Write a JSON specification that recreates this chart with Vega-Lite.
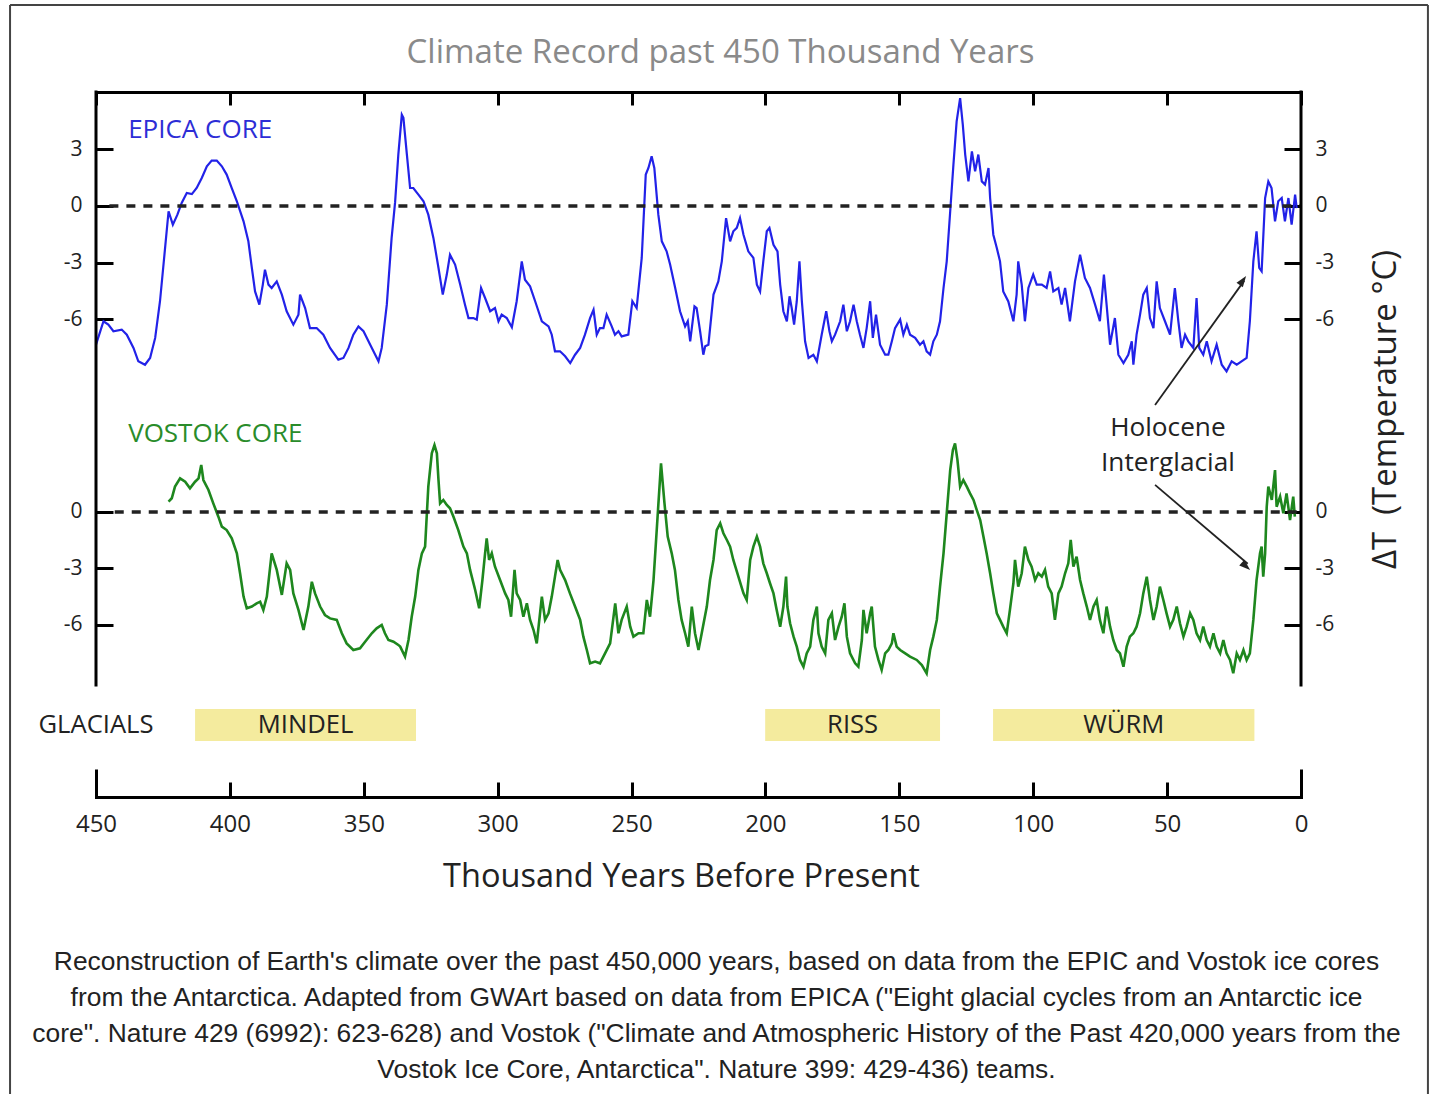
{
"$schema": "https://vega.github.io/schema/vega-lite/v6.json",
"background": "white",
"autosize": {"type": "none"},
"padding": {"left": 96, "top": 92, "right": 130, "bottom": 297},
"width": 1205,
"height": 705,
"title": {
  "text": [
    "Reconstruction of Earth's climate over the past 450,000 years, based on data from the EPIC and Vostok ice cores",
    "from the Antarctica. Adapted from GWArt based on data from EPICA (\"Eight glacial cycles from an Antarctic ice",
    "core\". Nature 429 (6992): 623-628) and Vostok (\"Climate and Atmospheric History of the Past 420,000 years from the",
    "Vostok Ice Core, Antarctica\". Nature 399: 429-436) teams."
  ],
  "orient": "bottom", "anchor": "middle", "frame": "group", "font": "Liberation Sans", "fontSize": 26.4, "fontWeight": "normal", "color": "#222", "lineHeight": 36, "offset": -146, "dx": 18
},
"config": {
  "view": {"stroke": null},
  "font": "Open Sans",
  "axis": {"domainColor": "#000", "domainWidth": 3, "domainCap": "square", "tickColor": "#000", "tickWidth": 3, "grid": false, "labelFont": "Open Sans", "labelColor": "#222", "titleFont": "Open Sans", "titleColor": "#222", "titleFontWeight": "normal"}
},
"datasets": {
  "epica": [
{"kyr":450,"dT":-7.34},{"kyr":447.2,"dT":-6.1},{"kyr":445.4,"dT":-6.28},{"kyr":443.5,"dT":-6.63},{"kyr":440.4,"dT":-6.54},{"kyr":438.5,"dT":-6.81},{"kyr":436.0,"dT":-7.51},{"kyr":434.2,"dT":-8.22},{"kyr":431.7,"dT":-8.4},{"kyr":429.8,"dT":-8.04},{"kyr":427.9,"dT":-6.98},{"kyr":426.1,"dT":-5.04},{"kyr":424.2,"dT":-2.22},{"kyr":422.9,"dT":-0.28},{"kyr":421.3,"dT":-0.99},{"kyr":419.6,"dT":-0.46},{"kyr":418.0,"dT":0.16},{"kyr":416.1,"dT":0.69},{"kyr":414.2,"dT":0.63},{"kyr":412.4,"dT":0.95},{"kyr":410.5,"dT":1.48},{"kyr":408.6,"dT":2.1},{"kyr":406.8,"dT":2.4},{"kyr":404.9,"dT":2.4},{"kyr":403.0,"dT":2.1},{"kyr":401.2,"dT":1.66},{"kyr":399.3,"dT":0.95},{"kyr":397.4,"dT":0.25},{"kyr":394.9,"dT":-0.81},{"kyr":393.1,"dT":-1.87},{"kyr":391.8,"dT":-3.28},{"kyr":390.6,"dT":-4.52},{"kyr":389.0,"dT":-5.22},{"kyr":387.7,"dT":-4.16},{"kyr":386.9,"dT":-3.37},{"kyr":385.6,"dT":-4.16},{"kyr":384.4,"dT":-4.34},{"kyr":382.5,"dT":-3.99},{"kyr":380.6,"dT":-4.69},{"kyr":378.8,"dT":-5.57},{"kyr":376.3,"dT":-6.28},{"kyr":374.4,"dT":-5.75},{"kyr":373.8,"dT":-4.69},{"kyr":371.9,"dT":-5.4},{"kyr":370.1,"dT":-6.46},{"kyr":367.6,"dT":-6.46},{"kyr":365.1,"dT":-6.81},{"kyr":362.6,"dT":-7.51},{"kyr":359.5,"dT":-8.13},{"kyr":357.6,"dT":-8.04},{"kyr":355.7,"dT":-7.51},{"kyr":353.9,"dT":-6.81},{"kyr":352.0,"dT":-6.37},{"kyr":350.1,"dT":-6.63},{"kyr":347.6,"dT":-7.34},{"kyr":344.5,"dT":-8.22},{"kyr":343.3,"dT":-7.51},{"kyr":341.4,"dT":-5.22},{"kyr":339.6,"dT":-1.69},{"kyr":338.3,"dT":0.2},{"kyr":337.1,"dT":2.72},{"kyr":335.8,"dT":4.83},{"kyr":335.2,"dT":4.66},{"kyr":333.9,"dT":2.72},{"kyr":332.7,"dT":0.95},{"kyr":331.5,"dT":0.95},{"kyr":329.6,"dT":0.6},{"kyr":327.7,"dT":0.25},{"kyr":325.9,"dT":-0.46},{"kyr":324.0,"dT":-1.69},{"kyr":322.1,"dT":-3.28},{"kyr":320.5,"dT":-4.69},{"kyr":319.0,"dT":-3.63},{"kyr":317.8,"dT":-2.58},{"kyr":315.9,"dT":-3.1},{"kyr":314.0,"dT":-4.16},{"kyr":312.2,"dT":-5.22},{"kyr":310.9,"dT":-5.93},{"kyr":309.1,"dT":-5.93},{"kyr":307.8,"dT":-6.01},{"kyr":306.2,"dT":-4.34},{"kyr":304.7,"dT":-4.87},{"kyr":302.8,"dT":-5.57},{"kyr":301.0,"dT":-5.4},{"kyr":299.7,"dT":-6.1},{"kyr":298.5,"dT":-5.75},{"kyr":296.6,"dT":-5.93},{"kyr":294.7,"dT":-6.42},{"kyr":292.9,"dT":-5.04},{"kyr":291.0,"dT":-2.93},{"kyr":289.8,"dT":-3.9},{"kyr":287.9,"dT":-4.25},{"kyr":286.0,"dT":-5.04},{"kyr":283.5,"dT":-6.1},{"kyr":281.0,"dT":-6.37},{"kyr":279.8,"dT":-6.81},{"kyr":278.6,"dT":-7.69},{"kyr":276.7,"dT":-7.69},{"kyr":274.8,"dT":-7.95},{"kyr":272.9,"dT":-8.31},{"kyr":271.1,"dT":-7.87},{"kyr":269.2,"dT":-7.51},{"kyr":267.4,"dT":-6.81},{"kyr":265.5,"dT":-5.93},{"kyr":264.2,"dT":-5.49},{"kyr":263.0,"dT":-6.81},{"kyr":261.8,"dT":-6.46},{"kyr":260.5,"dT":-6.46},{"kyr":259.3,"dT":-5.75},{"kyr":257.4,"dT":-6.37},{"kyr":256.2,"dT":-6.81},{"kyr":254.9,"dT":-6.63},{"kyr":253.7,"dT":-6.9},{"kyr":251.2,"dT":-6.81},{"kyr":249.7,"dT":-5.04},{"kyr":248.1,"dT":-5.4},{"kyr":246.2,"dT":-2.75},{"kyr":244.7,"dT":1.66},{"kyr":243.7,"dT":2.01},{"kyr":242.5,"dT":2.63},{"kyr":241.5,"dT":2.01},{"kyr":240.0,"dT":-0.46},{"kyr":238.7,"dT":-1.87},{"kyr":236.9,"dT":-2.4},{"kyr":235.6,"dT":-3.1},{"kyr":233.7,"dT":-4.34},{"kyr":231.9,"dT":-5.57},{"kyr":230.0,"dT":-6.37},{"kyr":229.0,"dT":-6.1},{"kyr":228.1,"dT":-7.16},{"kyr":226.5,"dT":-5.31},{"kyr":225.7,"dT":-5.4},{"kyr":224.4,"dT":-6.63},{"kyr":223.2,"dT":-7.87},{"kyr":222.5,"dT":-7.42},{"kyr":221.3,"dT":-7.34},{"kyr":219.4,"dT":-4.69},{"kyr":217.6,"dT":-3.99},{"kyr":216.3,"dT":-2.93},{"kyr":214.7,"dT":-0.64},{"kyr":213.2,"dT":-1.87},{"kyr":212.0,"dT":-1.34},{"kyr":210.7,"dT":-1.16},{"kyr":209.5,"dT":-0.64},{"kyr":208.2,"dT":-1.52},{"kyr":206.4,"dT":-2.4},{"kyr":204.5,"dT":-2.75},{"kyr":203.2,"dT":-4.16},{"kyr":202.0,"dT":-4.52},{"kyr":200.8,"dT":-2.93},{"kyr":199.5,"dT":-1.34},{"kyr":198.5,"dT":-1.16},{"kyr":197.0,"dT":-2.05},{"kyr":195.5,"dT":-2.4},{"kyr":194.5,"dT":-4.16},{"kyr":193.3,"dT":-5.57},{"kyr":192.0,"dT":-6.1},{"kyr":191.0,"dT":-4.78},{"kyr":190.2,"dT":-5.4},{"kyr":189.3,"dT":-6.28},{"kyr":188.3,"dT":-5.04},{"kyr":187.3,"dT":-2.93},{"kyr":186.4,"dT":-5.04},{"kyr":185.2,"dT":-7.16},{"kyr":183.9,"dT":-8.04},{"kyr":182.1,"dT":-7.87},{"kyr":180.8,"dT":-8.22},{"kyr":179.0,"dT":-6.81},{"kyr":177.3,"dT":-5.57},{"kyr":176.1,"dT":-6.63},{"kyr":175.2,"dT":-7.16},{"kyr":174.0,"dT":-6.81},{"kyr":172.1,"dT":-6.1},{"kyr":170.9,"dT":-5.22},{"kyr":169.6,"dT":-6.63},{"kyr":168.4,"dT":-6.1},{"kyr":167.1,"dT":-5.22},{"kyr":165.9,"dT":-6.1},{"kyr":164.7,"dT":-6.81},{"kyr":163.4,"dT":-7.51},{"kyr":162.2,"dT":-6.46},{"kyr":160.9,"dT":-5.04},{"kyr":159.9,"dT":-6.98},{"kyr":158.7,"dT":-5.75},{"kyr":157.2,"dT":-7.34},{"kyr":155.3,"dT":-7.87},{"kyr":154.1,"dT":-7.87},{"kyr":152.8,"dT":-7.16},{"kyr":151.6,"dT":-6.46},{"kyr":149.7,"dT":-6.01},{"kyr":148.5,"dT":-6.81},{"kyr":147.2,"dT":-6.28},{"kyr":146.0,"dT":-6.81},{"kyr":144.1,"dT":-6.98},{"kyr":142.3,"dT":-7.34},{"kyr":141.0,"dT":-7.16},{"kyr":139.8,"dT":-7.69},{"kyr":138.5,"dT":-7.87},{"kyr":137.3,"dT":-7.16},{"kyr":136.0,"dT":-6.81},{"kyr":134.8,"dT":-6.1},{"kyr":133.5,"dT":-4.34},{"kyr":132.3,"dT":-2.93},{"kyr":131.0,"dT":-0.28},{"kyr":129.8,"dT":2.19},{"kyr":128.6,"dT":4.48},{"kyr":127.3,"dT":5.71},{"kyr":126.3,"dT":4.3},{"kyr":125.4,"dT":2.72},{"kyr":124.2,"dT":1.3},{"kyr":122.9,"dT":2.89},{"kyr":121.7,"dT":1.83},{"kyr":120.5,"dT":2.72},{"kyr":119.2,"dT":1.3},{"kyr":118.0,"dT":1.13},{"kyr":116.7,"dT":2.01},{"kyr":116.1,"dT":0.42},{"kyr":114.9,"dT":-1.52},{"kyr":113.6,"dT":-2.22},{"kyr":112.4,"dT":-2.93},{"kyr":111.2,"dT":-4.52},{"kyr":109.3,"dT":-5.05},{"kyr":107.4,"dT":-6.1},{"kyr":106.2,"dT":-4.69},{"kyr":105.6,"dT":-2.93},{"kyr":104.3,"dT":-4.16},{"kyr":103.1,"dT":-6.1},{"kyr":101.8,"dT":-4.34},{"kyr":100.0,"dT":-3.63},{"kyr":98.7,"dT":-4.16},{"kyr":96.8,"dT":-4.16},{"kyr":95.0,"dT":-4.34},{"kyr":93.7,"dT":-3.46},{"kyr":92.5,"dT":-4.52},{"kyr":90.6,"dT":-4.34},{"kyr":89.4,"dT":-5.22},{"kyr":88.1,"dT":-4.34},{"kyr":86.3,"dT":-6.1},{"kyr":84.4,"dT":-3.99},{"kyr":82.5,"dT":-2.58},{"kyr":80.7,"dT":-3.81},{"kyr":78.8,"dT":-4.34},{"kyr":76.9,"dT":-5.22},{"kyr":75.1,"dT":-6.1},{"kyr":73.6,"dT":-3.63},{"kyr":72.6,"dT":-5.22},{"kyr":71.3,"dT":-7.34},{"kyr":69.5,"dT":-5.93},{"kyr":68.2,"dT":-7.87},{"kyr":66.3,"dT":-8.31},{"kyr":64.5,"dT":-7.87},{"kyr":63.2,"dT":-7.16},{"kyr":62.6,"dT":-8.4},{"kyr":61.4,"dT":-6.81},{"kyr":60.1,"dT":-5.75},{"kyr":58.9,"dT":-4.69},{"kyr":57.6,"dT":-4.34},{"kyr":56.4,"dT":-5.93},{"kyr":55.1,"dT":-6.46},{"kyr":53.9,"dT":-3.99},{"kyr":52.7,"dT":-5.4},{"kyr":50.8,"dT":-6.1},{"kyr":48.9,"dT":-6.81},{"kyr":47.1,"dT":-4.34},{"kyr":45.8,"dT":-6.1},{"kyr":44.6,"dT":-7.51},{"kyr":43.3,"dT":-6.81},{"kyr":42.1,"dT":-7.16},{"kyr":40.2,"dT":-7.51},{"kyr":39.0,"dT":-4.87},{"kyr":38.0,"dT":-7.51},{"kyr":36.5,"dT":-7.87},{"kyr":35.2,"dT":-7.16},{"kyr":33.4,"dT":-8.22},{"kyr":31.5,"dT":-7.34},{"kyr":29.6,"dT":-8.4},{"kyr":27.8,"dT":-8.75},{"kyr":25.9,"dT":-8.22},{"kyr":24.0,"dT":-8.4},{"kyr":22.2,"dT":-8.22},{"kyr":20.3,"dT":-8.04},{"kyr":19.1,"dT":-6.1},{"kyr":17.8,"dT":-2.93},{"kyr":16.6,"dT":-1.34},{"kyr":15.6,"dT":-3.28},{"kyr":14.7,"dT":-3.46},{"kyr":13.4,"dT":0.42},{"kyr":12.2,"dT":1.3},{"kyr":11.0,"dT":0.95},{"kyr":9.7,"dT":-0.81},{"kyr":8.5,"dT":0.25},{"kyr":7.2,"dT":0.42},{"kyr":6.0,"dT":-0.81},{"kyr":4.7,"dT":0.42},{"kyr":3.5,"dT":-0.99},{"kyr":2.2,"dT":0.6},{"kyr":1.6,"dT":-0.11}
  ],
  "vostok": [
{"kyr":422.9,"dT":0.55},{"kyr":421.7,"dT":0.73},{"kyr":420.5,"dT":1.35},{"kyr":418.6,"dT":1.79},{"kyr":416.7,"dT":1.61},{"kyr":414.9,"dT":1.26},{"kyr":413.0,"dT":1.61},{"kyr":411.7,"dT":1.79},{"kyr":410.7,"dT":2.5},{"kyr":409.9,"dT":1.7},{"kyr":408.0,"dT":1.17},{"kyr":406.2,"dT":0.46},{"kyr":404.3,"dT":-0.25},{"kyr":403.0,"dT":-0.78},{"kyr":401.2,"dT":-0.96},{"kyr":399.3,"dT":-1.4},{"kyr":397.4,"dT":-2.2},{"kyr":396.2,"dT":-3.26},{"kyr":394.9,"dT":-4.5},{"kyr":393.7,"dT":-5.12},{"kyr":391.8,"dT":-5.03},{"kyr":390.0,"dT":-4.86},{"kyr":388.7,"dT":-4.77},{"kyr":387.5,"dT":-5.21},{"kyr":386.2,"dT":-4.5},{"kyr":384.4,"dT":-2.2},{"kyr":382.5,"dT":-3.08},{"kyr":380.6,"dT":-4.41},{"kyr":378.8,"dT":-2.73},{"kyr":377.5,"dT":-3.08},{"kyr":376.3,"dT":-4.33},{"kyr":374.4,"dT":-5.21},{"kyr":372.5,"dT":-6.28},{"kyr":370.7,"dT":-5.03},{"kyr":369.4,"dT":-3.71},{"kyr":368.2,"dT":-4.33},{"kyr":366.3,"dT":-5.03},{"kyr":364.5,"dT":-5.48},{"kyr":362.6,"dT":-5.66},{"kyr":360.1,"dT":-5.74},{"kyr":358.2,"dT":-6.45},{"kyr":356.4,"dT":-6.99},{"kyr":353.9,"dT":-7.34},{"kyr":351.4,"dT":-7.25},{"kyr":349.5,"dT":-6.9},{"kyr":347.0,"dT":-6.45},{"kyr":345.2,"dT":-6.19},{"kyr":343.3,"dT":-6.01},{"kyr":342.1,"dT":-6.45},{"kyr":340.8,"dT":-6.81},{"kyr":338.9,"dT":-6.9},{"kyr":337.1,"dT":-7.07},{"kyr":336.4,"dT":-7.16},{"kyr":334.6,"dT":-7.69},{"kyr":333.3,"dT":-6.81},{"kyr":332.1,"dT":-5.57},{"kyr":330.8,"dT":-4.5},{"kyr":329.6,"dT":-3.08},{"kyr":328.3,"dT":-2.2},{"kyr":327.1,"dT":-1.84},{"kyr":325.9,"dT":1.35},{"kyr":324.6,"dT":3.12},{"kyr":323.6,"dT":3.56},{"kyr":322.7,"dT":3.12},{"kyr":322.1,"dT":1.7},{"kyr":321.5,"dT":0.46},{"kyr":320.3,"dT":0.64},{"kyr":319.0,"dT":0.37},{"kyr":317.8,"dT":0.2},{"kyr":316.5,"dT":-0.25},{"kyr":314.7,"dT":-0.96},{"kyr":312.8,"dT":-1.84},{"kyr":311.5,"dT":-2.2},{"kyr":310.3,"dT":-3.08},{"kyr":308.4,"dT":-4.15},{"kyr":306.9,"dT":-5.12},{"kyr":305.7,"dT":-3.62},{"kyr":304.7,"dT":-2.2},{"kyr":304.1,"dT":-1.4},{"kyr":303.2,"dT":-2.55},{"kyr":302.2,"dT":-2.2},{"kyr":301.0,"dT":-2.91},{"kyr":299.1,"dT":-3.62},{"kyr":297.2,"dT":-4.33},{"kyr":296.0,"dT":-4.68},{"kyr":295.0,"dT":-5.57},{"kyr":293.7,"dT":-3.08},{"kyr":292.9,"dT":-4.33},{"kyr":291.6,"dT":-4.68},{"kyr":290.4,"dT":-5.57},{"kyr":289.1,"dT":-4.86},{"kyr":287.9,"dT":-5.74},{"kyr":286.6,"dT":-6.28},{"kyr":285.4,"dT":-6.99},{"kyr":283.5,"dT":-4.5},{"kyr":282.3,"dT":-5.74},{"kyr":281.0,"dT":-5.39},{"kyr":279.8,"dT":-4.5},{"kyr":278.6,"dT":-3.44},{"kyr":277.6,"dT":-2.55},{"kyr":276.7,"dT":-3.08},{"kyr":274.8,"dT":-3.62},{"kyr":273.0,"dT":-4.33},{"kyr":271.1,"dT":-5.03},{"kyr":269.2,"dT":-5.74},{"kyr":268.0,"dT":-6.63},{"kyr":266.7,"dT":-7.34},{"kyr":265.5,"dT":-8.05},{"kyr":263.6,"dT":-7.96},{"kyr":261.8,"dT":-8.05},{"kyr":259.9,"dT":-7.52},{"kyr":258.0,"dT":-6.99},{"kyr":256.1,"dT":-4.86},{"kyr":254.9,"dT":-6.45},{"kyr":253.7,"dT":-5.74},{"kyr":251.8,"dT":-5.03},{"kyr":250.5,"dT":-6.1},{"kyr":249.3,"dT":-6.63},{"kyr":247.4,"dT":-6.45},{"kyr":245.6,"dT":-6.45},{"kyr":244.3,"dT":-4.68},{"kyr":243.1,"dT":-5.57},{"kyr":241.8,"dT":-3.62},{"kyr":240.6,"dT":-0.96},{"kyr":239.0,"dT":2.59},{"kyr":237.7,"dT":0.46},{"kyr":236.5,"dT":-1.31},{"kyr":235.0,"dT":-2.2},{"kyr":233.8,"dT":-3.08},{"kyr":232.5,"dT":-4.68},{"kyr":231.3,"dT":-5.74},{"kyr":230.0,"dT":-6.45},{"kyr":228.8,"dT":-7.16},{"kyr":227.5,"dT":-5.03},{"kyr":226.3,"dT":-6.45},{"kyr":225.0,"dT":-7.34},{"kyr":223.8,"dT":-6.45},{"kyr":221.9,"dT":-5.03},{"kyr":220.7,"dT":-3.62},{"kyr":219.4,"dT":-2.55},{"kyr":218.2,"dT":-0.96},{"kyr":216.9,"dT":-0.6},{"kyr":215.7,"dT":-1.13},{"kyr":214.4,"dT":-1.49},{"kyr":213.2,"dT":-1.84},{"kyr":212.0,"dT":-2.55},{"kyr":210.1,"dT":-3.44},{"kyr":208.2,"dT":-4.33},{"kyr":207.0,"dT":-4.68},{"kyr":205.7,"dT":-2.55},{"kyr":204.5,"dT":-1.84},{"kyr":203.2,"dT":-1.31},{"kyr":202.0,"dT":-1.84},{"kyr":200.8,"dT":-2.73},{"kyr":199.5,"dT":-3.26},{"kyr":198.3,"dT":-3.79},{"kyr":197.0,"dT":-4.33},{"kyr":195.8,"dT":-5.21},{"kyr":194.5,"dT":-6.1},{"kyr":193.3,"dT":-5.03},{"kyr":192.3,"dT":-3.44},{"kyr":191.8,"dT":-5.03},{"kyr":190.8,"dT":-5.92},{"kyr":189.5,"dT":-6.63},{"kyr":188.3,"dT":-7.16},{"kyr":187.1,"dT":-7.87},{"kyr":185.8,"dT":-8.23},{"kyr":184.6,"dT":-7.52},{"kyr":183.3,"dT":-7.16},{"kyr":182.1,"dT":-5.74},{"kyr":180.8,"dT":-5.03},{"kyr":180.2,"dT":-6.45},{"kyr":179.0,"dT":-7.16},{"kyr":177.7,"dT":-7.52},{"kyr":176.5,"dT":-5.74},{"kyr":175.2,"dT":-5.39},{"kyr":174.0,"dT":-6.81},{"kyr":172.7,"dT":-6.1},{"kyr":171.5,"dT":-5.57},{"kyr":170.5,"dT":-4.86},{"kyr":169.6,"dT":-6.63},{"kyr":168.4,"dT":-7.52},{"kyr":166.5,"dT":-8.05},{"kyr":165.3,"dT":-8.23},{"kyr":164.0,"dT":-6.81},{"kyr":163.4,"dT":-5.21},{"kyr":162.2,"dT":-6.45},{"kyr":160.9,"dT":-5.39},{"kyr":160.3,"dT":-5.03},{"kyr":159.1,"dT":-7.16},{"kyr":157.8,"dT":-7.87},{"kyr":156.6,"dT":-8.4},{"kyr":155.3,"dT":-7.52},{"kyr":154.1,"dT":-7.34},{"kyr":152.8,"dT":-6.99},{"kyr":152.2,"dT":-6.45},{"kyr":151.0,"dT":-7.16},{"kyr":149.7,"dT":-7.34},{"kyr":147.8,"dT":-7.52},{"kyr":146.0,"dT":-7.69},{"kyr":143.5,"dT":-7.87},{"kyr":141.6,"dT":-8.14},{"kyr":139.8,"dT":-8.58},{"kyr":138.5,"dT":-7.34},{"kyr":137.3,"dT":-6.63},{"kyr":136.0,"dT":-5.74},{"kyr":134.8,"dT":-3.97},{"kyr":133.5,"dT":-2.2},{"kyr":132.3,"dT":-0.07},{"kyr":131.0,"dT":2.23},{"kyr":130.0,"dT":3.3},{"kyr":129.2,"dT":3.65},{"kyr":128.3,"dT":2.77},{"kyr":127.3,"dT":1.35},{"kyr":126.1,"dT":1.7},{"kyr":124.8,"dT":1.35},{"kyr":123.6,"dT":0.99},{"kyr":122.3,"dT":0.64},{"kyr":121.1,"dT":0.11},{"kyr":119.8,"dT":-0.43},{"kyr":118.6,"dT":-1.31},{"kyr":117.4,"dT":-2.2},{"kyr":116.1,"dT":-3.26},{"kyr":114.9,"dT":-4.33},{"kyr":113.6,"dT":-5.39},{"kyr":112.4,"dT":-5.74},{"kyr":111.2,"dT":-6.1},{"kyr":109.9,"dT":-6.45},{"kyr":108.7,"dT":-5.21},{"kyr":107.4,"dT":-3.79},{"kyr":106.8,"dT":-2.55},{"kyr":105.6,"dT":-3.97},{"kyr":104.3,"dT":-3.26},{"kyr":103.1,"dT":-1.84},{"kyr":101.8,"dT":-2.55},{"kyr":100.6,"dT":-2.91},{"kyr":99.3,"dT":-3.62},{"kyr":98.1,"dT":-3.26},{"kyr":96.8,"dT":-3.44},{"kyr":95.6,"dT":-3.08},{"kyr":94.4,"dT":-3.97},{"kyr":93.1,"dT":-4.33},{"kyr":91.9,"dT":-5.74},{"kyr":90.6,"dT":-4.33},{"kyr":89.4,"dT":-3.97},{"kyr":88.1,"dT":-3.26},{"kyr":86.9,"dT":-2.73},{"kyr":86.0,"dT":-1.49},{"kyr":85.0,"dT":-2.91},{"kyr":83.8,"dT":-2.38},{"kyr":82.5,"dT":-3.62},{"kyr":81.3,"dT":-4.33},{"kyr":80.0,"dT":-5.03},{"kyr":78.8,"dT":-5.74},{"kyr":77.5,"dT":-5.03},{"kyr":76.3,"dT":-4.68},{"kyr":75.1,"dT":-5.74},{"kyr":73.8,"dT":-6.45},{"kyr":72.6,"dT":-5.03},{"kyr":71.3,"dT":-6.1},{"kyr":70.1,"dT":-6.81},{"kyr":68.8,"dT":-7.34},{"kyr":67.6,"dT":-7.52},{"kyr":66.3,"dT":-8.23},{"kyr":65.1,"dT":-7.16},{"kyr":63.9,"dT":-6.63},{"kyr":62.6,"dT":-6.45},{"kyr":61.4,"dT":-6.1},{"kyr":60.1,"dT":-5.39},{"kyr":58.9,"dT":-4.33},{"kyr":57.6,"dT":-3.44},{"kyr":56.4,"dT":-4.68},{"kyr":55.1,"dT":-5.74},{"kyr":53.9,"dT":-5.03},{"kyr":52.7,"dT":-3.97},{"kyr":51.4,"dT":-4.68},{"kyr":50.2,"dT":-5.39},{"kyr":48.9,"dT":-6.1},{"kyr":47.7,"dT":-5.74},{"kyr":46.4,"dT":-5.03},{"kyr":45.2,"dT":-5.92},{"kyr":43.9,"dT":-6.63},{"kyr":42.7,"dT":-6.1},{"kyr":41.4,"dT":-5.39},{"kyr":40.2,"dT":-5.74},{"kyr":39.0,"dT":-6.45},{"kyr":37.7,"dT":-6.81},{"kyr":36.5,"dT":-6.1},{"kyr":35.2,"dT":-6.81},{"kyr":34.0,"dT":-7.16},{"kyr":32.7,"dT":-6.45},{"kyr":31.5,"dT":-7.16},{"kyr":30.2,"dT":-7.52},{"kyr":29.0,"dT":-6.81},{"kyr":27.8,"dT":-7.52},{"kyr":26.5,"dT":-7.87},{"kyr":25.3,"dT":-8.58},{"kyr":24.0,"dT":-7.52},{"kyr":22.8,"dT":-7.87},{"kyr":21.5,"dT":-7.34},{"kyr":20.3,"dT":-7.87},{"kyr":19.1,"dT":-7.52},{"kyr":17.8,"dT":-5.74},{"kyr":16.6,"dT":-3.62},{"kyr":15.3,"dT":-2.2},{"kyr":14.7,"dT":-1.84},{"kyr":14.1,"dT":-3.44},{"kyr":13.4,"dT":-2.2},{"kyr":12.8,"dT":0.28},{"kyr":12.2,"dT":1.35},{"kyr":10.9,"dT":0.64},{"kyr":9.7,"dT":2.23},{"kyr":9.1,"dT":0.28},{"kyr":7.8,"dT":0.82},{"kyr":6.6,"dT":-0.07},{"kyr":5.4,"dT":0.99},{"kyr":4.1,"dT":-0.43},{"kyr":2.9,"dT":0.82},{"kyr":2.3,"dT":-0.25}
  ],
  "glacials": [
    {"name": "MINDEL", "start": 413, "end": 330.5, "mid": 371.75},
    {"name": "RISS", "start": 200.1, "end": 134.8, "mid": 167.45},
    {"name": "WÜRM", "start": 115, "end": 17.4, "mid": 66.2}
  ],
  "frameSides": [{"kyr": 450}, {"kyr": 0}]
},
"resolve": {"scale": {"x": "independent", "y": "independent"}, "axis": {"x": "independent", "y": "independent"}},
"layer": [
  {
    "data": {"values": [{}]},
    "mark": {"type": "rule", "strokeWidth": 2, "color": "#444"},
    "encoding": {
      "x": {"datum": 482.1, "type": "quantitative", "scale": {"domain": [0, 450], "reverse": true, "nice": false, "zero": false}, "axis": null},
      "x2": {"datum": -47.4},
      "y": {"datum": 26.97, "type": "quantitative", "scale": {"domain": [-15.16, 22.34], "nice": false, "zero": false}, "axis": null}
    }
  },
  {
    "data": {"values": [{"kyr": 482.1}, {"kyr": -47.4}]},
    "mark": {"type": "rule", "strokeWidth": 2, "color": "#444"},
    "encoding": {
      "x": {"field": "kyr", "type": "quantitative", "scale": {"domain": [0, 450], "reverse": true, "nice": false, "zero": false}, "axis": null},
      "y": {"datum": 26.97, "type": "quantitative", "scale": {"domain": [-15.16, 22.34], "nice": false, "zero": false}, "axis": null},
      "y2": {"datum": -30.96}
    }
  },
  {
    "data": {"name": "epica"},
    "mark": {"type": "line", "color": "#2222e8", "strokeWidth": 2.2},
    "encoding": {
      "x": {"field": "kyr", "type": "quantitative", "scale": {"domain": [0, 450], "reverse": true, "nice": false, "zero": false},
            "axis": {"orient": "top", "values": [450,400,350,300,250,200,150,100,50,0], "labels": false, "tickSize": -13,
                     "title": "Climate Record past 450 Thousand Years", "titleColor": "#8a8a8a", "titleFontSize": 33, "titleX": 624, "titleY": -40, "titleAlign": "center", "titleBaseline": "middle"}},
      "y": {"field": "dT", "type": "quantitative", "scale": {"domain": [-31.27, 6.03], "nice": false, "zero": false},
            "axis": {"orient": "left", "domain": false, "values": [3,0,-3,-6], "tickSize": -17, "labelPadding": 31, "labelFontSize": 21, "labelExpr": "datum.value + ''", "title": null}}
    }
  },
  {
    "data": {"values": [{}]},
    "mark": {"type": "rule", "strokeDash": [9, 8], "strokeWidth": 3.5, "color": "#222"},
    "encoding": {
      "x": {"datum": 445, "type": "quantitative", "scale": {"domain": [0, 450], "reverse": true, "nice": false, "zero": false}, "axis": null},
      "x2": {"datum": 0},
      "y": {"datum": 0, "type": "quantitative", "scale": {"domain": [-31.27, 6.03], "nice": false, "zero": false},
            "axis": {"orient": "right", "domain": false, "values": [3,0,-3,-6], "tickSize": -17, "labelPadding": 31, "labelFontSize": 21, "labelExpr": "datum.value + ''", "title": null}}
    }
  },
  {
    "data": {"name": "vostok"},
    "mark": {"type": "line", "color": "#1e871e", "strokeWidth": 2.6},
    "encoding": {
      "x": {"field": "kyr", "type": "quantitative", "scale": {"domain": [0, 450], "reverse": true, "nice": false, "zero": false},
            "axis": {"orient": "bottom", "values": [450,400,350,300,250,200,150,100,50,0], "tickSize": -15, "labelPadding": 30, "labelFontSize": 24, "labelFlush": false, "labelExpr": "datum.value + ''",
                     "title": "Thousand Years Before Present", "titleFontSize": 32.5, "titleX": 585, "titleY": 79, "titleAlign": "center", "titleBaseline": "middle"}},
      "y": {"field": "dT", "type": "quantitative", "scale": {"domain": [-15.16, 22.34], "nice": false, "zero": false},
            "axis": {"orient": "left", "domain": false, "values": [0,-3,-6], "tickSize": -17, "labelPadding": 31, "labelFontSize": 21, "labelExpr": "datum.value + ''", "title": null}}
    }
  },
  {
    "data": {"values": [{}]},
    "mark": {"type": "rule", "strokeDash": [9, 8], "strokeWidth": 3.5, "color": "#222"},
    "encoding": {
      "x": {"datum": 443, "type": "quantitative", "scale": {"domain": [0, 450], "reverse": true, "nice": false, "zero": false}, "axis": null},
      "x2": {"datum": 0},
      "y": {"datum": 0, "type": "quantitative", "scale": {"domain": [-15.16, 22.34], "nice": false, "zero": false},
            "axis": {"orient": "right", "domain": false, "values": [0,-3,-6], "tickSize": -17, "labelPadding": 31, "labelFontSize": 21, "labelExpr": "datum.value + ''",
                     "title": "ΔT\u00a0\u00a0(Temperature °C)", "titleFontSize": 33, "titleAngle": 270, "titleX": 84, "titleY": 317, "titleAlign": "center", "titleBaseline": "middle"}}
    }
  },
  {
    "data": {"name": "frameSides"},
    "mark": {"type": "rule", "strokeWidth": 3, "color": "#000", "strokeCap": "square"},
    "encoding": {
      "x": {"field": "kyr", "type": "quantitative", "scale": {"domain": [0, 450], "reverse": true, "nice": false, "zero": false},
            "axis": {"orient": "bottom", "domain": false, "values": [450, 0], "tickSize": -28, "labels": false, "title": null}},
      "y": {"datum": -9.2, "type": "quantitative", "scale": {"domain": [-15.16, 22.34], "nice": false, "zero": false}, "axis": null},
      "y2": {"datum": 22.34}
    }
  },
  {
    "data": {"name": "glacials"},
    "mark": {"type": "rect", "color": "#f4eb9e"},
    "encoding": {
      "x": {"field": "start", "type": "quantitative", "scale": {"domain": [0, 450], "reverse": true, "nice": false, "zero": false}, "axis": null},
      "x2": {"field": "end"},
      "y": {"datum": -10.48, "type": "quantitative", "scale": {"domain": [-15.16, 22.34], "nice": false, "zero": false}, "axis": null},
      "y2": {"datum": -12.18}
    }
  },
  {
    "data": {"name": "glacials"},
    "mark": {"type": "text", "fontSize": 25.6, "color": "#222", "baseline": "middle", "align": "center"},
    "encoding": {
      "x": {"field": "mid", "type": "quantitative", "scale": {"domain": [0, 450], "reverse": true, "nice": false, "zero": false}, "axis": null},
      "y": {"datum": -11.33, "type": "quantitative", "scale": {"domain": [-15.16, 22.34], "nice": false, "zero": false}, "axis": null},
      "text": {"field": "name"}
    }
  },
  {
    "data": {"values": [{}]},
    "mark": {"type": "text", "text": "GLACIALS", "fontSize": 25.6, "color": "#222", "baseline": "middle", "align": "center"},
    "encoding": {
      "x": {"datum": 450, "type": "quantitative", "scale": {"domain": [0, 450], "reverse": true, "nice": false, "zero": false}, "axis": null},
      "y": {"datum": -11.33, "type": "quantitative", "scale": {"domain": [-15.16, 22.34], "nice": false, "zero": false}, "axis": null}
    }
  },
  {
    "data": {"values": [{"label": "EPICA CORE", "kyr": 438, "dT": 4.02}]},
    "mark": {"type": "text", "align": "left", "baseline": "middle", "fontSize": 26, "color": "#2d2dd6"},
    "encoding": {
      "x": {"field": "kyr", "type": "quantitative", "scale": {"domain": [0, 450], "reverse": true, "nice": false, "zero": false}, "axis": null},
      "y": {"field": "dT", "type": "quantitative", "scale": {"domain": [-31.27, 6.03], "nice": false, "zero": false}, "axis": null},
      "text": {"field": "label"}
    }
  },
  {
    "data": {"values": [{"label": "VOSTOK CORE", "kyr": 438, "dT": 4.15}]},
    "mark": {"type": "text", "align": "left", "baseline": "middle", "fontSize": 26, "color": "#2a8c2a"},
    "encoding": {
      "x": {"field": "kyr", "type": "quantitative", "scale": {"domain": [0, 450], "reverse": true, "nice": false, "zero": false}, "axis": null},
      "y": {"field": "dT", "type": "quantitative", "scale": {"domain": [-15.16, 22.34], "nice": false, "zero": false}, "axis": null},
      "text": {"field": "label"}
    }
  },
  {
    "data": {"values": [{"label": "Holocene", "kyr": 49.7, "dT": 4.47}, {"label": "Interglacial", "kyr": 49.7, "dT": 2.61}]},
    "mark": {"type": "text", "align": "center", "baseline": "middle", "fontSize": 26.2, "color": "#222"},
    "encoding": {
      "x": {"field": "kyr", "type": "quantitative", "scale": {"domain": [0, 450], "reverse": true, "nice": false, "zero": false}, "axis": null},
      "y": {"field": "dT", "type": "quantitative", "scale": {"domain": [-15.16, 22.34], "nice": false, "zero": false}, "axis": null},
      "text": {"field": "label"}
    }
  },
  {
    "data": {"values": [{"kyr": 54.5, "dT": -10.53}, {"kyr": 21.2, "dT": -3.95}]},
    "mark": {"type": "line", "color": "#222", "strokeWidth": 1.8},
    "encoding": {
      "x": {"field": "kyr", "type": "quantitative", "scale": {"domain": [0, 450], "reverse": true, "nice": false, "zero": false}, "axis": null},
      "y": {"field": "dT", "type": "quantitative", "scale": {"domain": [-31.27, 6.03], "nice": false, "zero": false}, "axis": null}
    }
  },
  {
    "data": {"values": [{"kyr": 20.5, "dT": -3.70}]},
    "mark": {"type": "point", "shape": "M0,0L0.55,1.6L-0.55,1.6Z", "filled": true, "opacity": 1, "size": 196, "color": "#222", "angle": 35},
    "encoding": {
      "x": {"field": "kyr", "type": "quantitative", "scale": {"domain": [0, 450], "reverse": true, "nice": false, "zero": false}, "axis": null},
      "y": {"field": "dT", "type": "quantitative", "scale": {"domain": [-31.27, 6.03], "nice": false, "zero": false}, "axis": null}
    }
  },
  {
    "data": {"values": [{"kyr": 54.5, "dT": 1.44}, {"kyr": 19.9, "dT": -2.75}]},
    "mark": {"type": "line", "color": "#222", "strokeWidth": 1.8},
    "encoding": {
      "x": {"field": "kyr", "type": "quantitative", "scale": {"domain": [0, 450], "reverse": true, "nice": false, "zero": false}, "axis": null},
      "y": {"field": "dT", "type": "quantitative", "scale": {"domain": [-15.16, 22.34], "nice": false, "zero": false}, "axis": null}
    }
  },
  {
    "data": {"values": [{"kyr": 19.0, "dT": -3.09}]},
    "mark": {"type": "point", "shape": "M0,0L0.55,1.6L-0.55,1.6Z", "filled": true, "opacity": 1, "size": 196, "color": "#222", "angle": 132},
    "encoding": {
      "x": {"field": "kyr", "type": "quantitative", "scale": {"domain": [0, 450], "reverse": true, "nice": false, "zero": false}, "axis": null},
      "y": {"field": "dT", "type": "quantitative", "scale": {"domain": [-15.16, 22.34], "nice": false, "zero": false}, "axis": null}
    }
  }
]
}
